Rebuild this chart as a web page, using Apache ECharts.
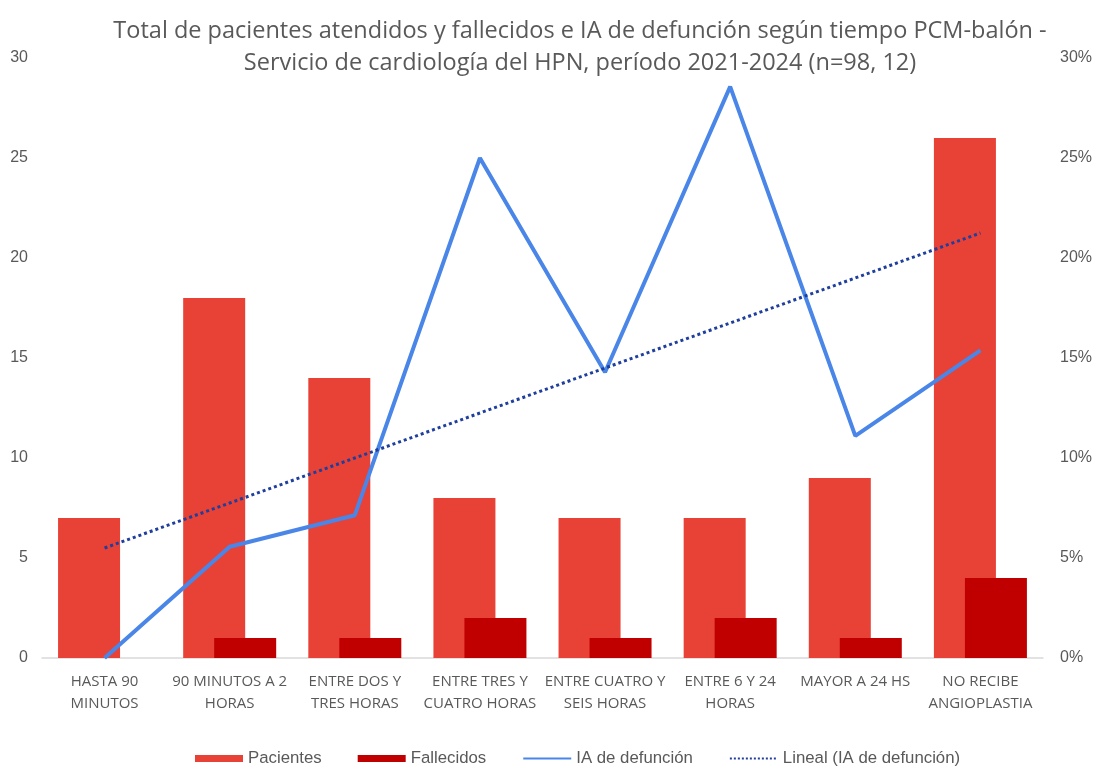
<!DOCTYPE html>
<html><head><meta charset="utf-8">
<script src="https://cdn.jsdelivr.net/npm/echarts@6/dist/echarts.min.js"></script>
<style>html,body{margin:0;padding:0;background:#fff}#c{width:1095px;height:767px}</style>
</head><body><div id="c"></div>
<script>
const categories = ["HASTA 90\nMINUTOS","90 MINUTOS A 2\nHORAS","ENTRE DOS Y\nTRES HORAS","ENTRE TRES Y\nCUATRO HORAS","ENTRE CUATRO Y\nSEIS HORAS","ENTRE 6 Y 24\nHORAS","MAYOR A 24 HS","NO RECIBE\nANGIOPLASTIA"];
const pacientes = [7,18,14,8,7,7,9,26];
const fallecidos = [0,1,1,2,1,2,1,4];
const iaDefuncion = [0,5.56,7.14,25,14.29,28.57,11.11,15.38];
const lineal = [5.5,7.75,10.0,12.25,14.5,16.75,19.0,21.25];
const narrow = '"Open Sans",sans-serif';
const arial = '"Liberation Sans",Arial,sans-serif';
const chart = echarts.init(document.getElementById('c'));
chart.setOption({
  animation:false,
  title:{text:'Total de pacientes atendidos y fallecidos e IA de defunción según tiempo PCM-balón -\nServicio de cardiología del HPN, período 2021-2024 (n=98, 12)',
    left:575, top:10, textAlign:'center',
    textStyle:{fontFamily:narrow,fontSize:23.5,fontWeight:'normal',color:'#595959',lineHeight:32}},
  grid:{left:42,right:52,top:58,bottom:109},
  legend:{top:745,left:190,itemGap:36,itemWidth:48,itemHeight:7,
    textStyle:{fontFamily:arial,fontSize:16.8,color:'#595959'},
    data:[{name:'Pacientes',icon:'rect'},{name:'Fallecidos',icon:'rect'},
      {name:'IA de defunción',itemStyle:{opacity:0}},{name:'Lineal (IA de defunción)',itemStyle:{opacity:0}}]},
  xAxis:{type:'category',data:categories,
    axisLine:{lineStyle:{color:'#D9D9D9',width:1.5}},axisTick:{show:false},
    axisLabel:{interval:0,margin:13,fontFamily:narrow,fontSize:15,lineHeight:22,color:'#595959'}},
  yAxis:[
    {type:'value',min:0,max:30,interval:5,splitLine:{show:false},
      axisLabel:{fontFamily:arial,fontSize:16,color:'#595959',margin:14}},
    {type:'value',min:0,max:30,interval:5,splitLine:{show:false},
      axisLabel:{formatter:'{value}%',fontFamily:arial,fontSize:16,color:'#595959',margin:17}}
  ],
  series:[
    {name:'Pacientes',type:'bar',data:pacientes,barWidth:62,barGap:'-50%',itemStyle:{color:'#E84135'}},
    {name:'Fallecidos',type:'bar',data:fallecidos,barWidth:62,barGap:'-50%',itemStyle:{color:'#C00000'}},
    {name:'IA de defunción',type:'line',yAxisIndex:1,data:iaDefuncion,showSymbol:false,symbol:'none',
      lineStyle:{color:'#4A86E8',width:4},itemStyle:{color:'#4A86E8'},z:5},
    {name:'Lineal (IA de defunción)',type:'line',yAxisIndex:1,data:lineal,showSymbol:false,symbol:'none',
      lineStyle:{color:'#1F3F9E',width:3,type:'dotted'},itemStyle:{color:'#1F3F9E'},z:6}
  ]
});
</script></body></html>
